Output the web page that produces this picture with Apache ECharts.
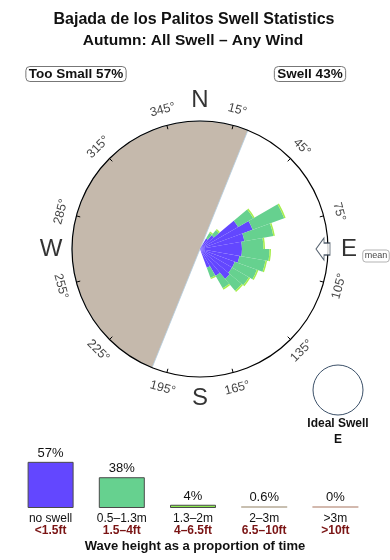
<!DOCTYPE html>
<html><head><meta charset="utf-8">
<script src="https://cdn.jsdelivr.net/npm/echarts@6/dist/echarts.min.js"></script>
<style>html,body{margin:0;padding:0;background:#fff}#c{width:390px;height:560px}</style>
</head><body><div id="c"></div>
<script>
// ---- texts ----
const titleText = 'Bajada de los Palitos Swell Statistics';
const subtitleText = 'Autumn: All Swell \u2013 Any Wind';
const tooSmallPct = 57;
const swellPct = 43;
const idealSwellDir = 'E';

// ---- rose: 10-degree direction bins (bin start bearing) ----
const dirBins = [0,10,20,30,40,50,60,70,80,90,100,110,120,130,140,150,160,170,
                 180,190,200,210,220,230,240,250,260,270,280,290,300,310,320,330,340,350];
// relative frequency (outer ring = 100), stacked by wave height class
const roseBlue   = [0,0,0,9.4,14.1,34.4,43.8,35.2,32.8,32.8,31.3,28.9,28.9,30.5,24.2,15.6,0,0,0,0,0,0,0,0,0,0,0,0,0,0,0,0,0,0,0,0];
const roseGreen  = [0,0,0,5.1,5.1,13.7,26.2,23.0,16.8,21.5,20.7,18.4,15.2,12.1,11.3,8.2,0,0,0,0,0,0,0,0,0,0,0,0,0,0,0,0,0,0,0,0];
const roseBright = [0,0,0,1.2,1.2,1.2,1.2,1.2,1.2,1.2,1.2,1.2,1.2,1.2,1.2,1.2,0,0,0,0,0,0,0,0,0,0,0,0,0,0,0,0,0,0,0,0];

// land sector (bearings, clockwise from -> to)
const landFrom = 202;
const landTo = 22;
const meanDir = 90;

// compass labels
const tickAngles = [15,45,75,105,135,165,195,225,255,285,315,345];
const cardinalNames = ['N','E','S','W'];
const cardinalAngles = [0,90,180,270];

// ---- wave height legend ----
const heightClasses = ['no swell','0.5\u20131.3m','1.3\u20132m','2\u20133m','>3m'];
const heightFeet = ['<1.5ft','1.5\u20134ft','4\u20136.5ft','6.5\u201310ft','>10ft'];
const heightPct = [57,38,4,0.6,0];
const heightColors = ['#6347FF','#66D18F','#8CEB50','#C8BFB0','#D3B9AE'];

const FONT = '"Liberation Sans", Arial, Helvetica, sans-serif';
const CX = 200, CY = 249, R = 128;

function tangentRot(a){
  let r = -a;
  while (r <= -90) r += 180;
  while (r > 90) r -= 180;
  return r;
}

const landSpan = ((landTo - landFrom) % 360 + 360) % 360;

const option = {
  animation: false,
  textStyle: { fontFamily: FONT },
  polar: [
    { center: [CX, CY], radius: R },
    { center: [CX, CY], radius: R },
    { center: [CX, CY], radius: 150 }
  ],
  angleAxis: [
    { polarIndex: 0, type: 'category', data: dirBins, startAngle: 90, clockwise: true, boundaryGap: true, show: false },
    { polarIndex: 1, type: 'value', min: 0, max: 360, interval: 30, startAngle: 90 - tickAngles[0], clockwise: true, z: 10,
      axisLine: { lineStyle: { color: '#000', width: 1.2 } },
      axisTick: { inside: true, length: 4, lineStyle: { color: '#000', width: 1 } },
      axisLabel: { show: false }, splitLine: { show: false } },
    { polarIndex: 2, type: 'value', min: 0, max: 360, startAngle: 90, clockwise: true, show: false }
  ],
  radiusAxis: [
    { polarIndex: 0, type: 'value', min: 0, max: 100, show: false },
    { polarIndex: 1, type: 'value', min: 0, max: 1, show: false },
    { polarIndex: 2, type: 'value', min: 0, max: 150, show: false }
  ],
  grid: { left: 15, width: 356, top: 427, height: 81 },
  xAxis: {
    type: 'category', data: heightClasses,
    axisLine: { show: false }, axisTick: { show: false },
    axisLabel: {
      interval: 0, margin: 5,
      formatter: (v, i) => '{a|' + v + '}\n{b|' + heightFeet[i] + '}',
      rich: {
        a: { fontSize: 12, color: '#111', lineHeight: 12, fontFamily: FONT },
        b: { fontSize: 12, color: '#7a1414', fontWeight: 'bold', lineHeight: 12, fontFamily: FONT }
      }
    }
  },
  yAxis: { type: 'value', min: 0, max: 100, show: false },
  series: [
    {
      type: 'pie', center: [CX, CY], radius: [0, R], z: 1, silent: true,
      startAngle: ((90 - landFrom) % 360 + 360) % 360, clockwise: true,
      label: { show: false }, labelLine: { show: false },
      emphasis: { disabled: true },
      data: [
        { value: landSpan, itemStyle: { color: '#C5B9AC', borderColor: '#b4cde0', borderWidth: 0.8 } },
        { value: 360 - landSpan, itemStyle: { color: 'rgba(0,0,0,0)' } }
      ]
    },
    { type: 'bar', coordinateSystem: 'polar', polarIndex: 0, stack: 'rose', data: roseBlue,
      barCategoryGap: '0%', itemStyle: { color: heightColors[0] }, z: 3, silent: true },
    { type: 'bar', coordinateSystem: 'polar', polarIndex: 0, stack: 'rose', data: roseGreen,
      barCategoryGap: '0%', itemStyle: { color: heightColors[1] }, z: 3, silent: true },
    { type: 'bar', coordinateSystem: 'polar', polarIndex: 0, stack: 'rose', data: roseBright,
      barCategoryGap: '0%', itemStyle: { color: '#A6EE4C' }, z: 3, silent: true },
    {
      type: 'scatter', coordinateSystem: 'polar', polarIndex: 2, symbolSize: 0, silent: true,
      data: tickAngles.map(a => ({ value: [144, a], label: { rotate: tangentRot(a) } })),
      label: { show: true, position: 'inside', fontSize: 12.5, color: '#111',
               formatter: p => p.value[1] + '\u00b0' }
    },
    {
      type: 'scatter', coordinateSystem: 'polar', polarIndex: 2, symbolSize: 0, silent: true,
      data: cardinalAngles.map((a, i) => ({ value: [149, a], name: cardinalNames[i] })),
      label: { show: true, position: 'inside', fontSize: 24, color: '#000', formatter: p => p.name }
    },
    {
      type: 'scatter', coordinateSystem: 'polar', polarIndex: 2, symbolSize: 0, silent: true,
      data: [{ value: [149, meanDir] }],
      label: { show: true, position: 'inside', offset: [27, 7], formatter: 'mean', fontSize: 9, color: '#111',
               borderColor: '#888', borderWidth: 0.8, borderRadius: 3, padding: [2, 2, 1, 2] }
    },
    {
      type: 'scatter', coordinateSystem: 'polar', polarIndex: 2, silent: true, z: 12,
      symbol: 'path://M0,11 L8,0 L8,5 L14,5 L14,17 L8,17 L8,22 Z',
      symbolSize: [14, 22], symbolRotate: 90 - meanDir,
      itemStyle: { color: '#fff', borderColor: '#2b3a4a', borderWidth: 1 },
      data: [[123, meanDir]]
    },
    {
      type: 'bar', xAxisIndex: 0, yAxisIndex: 0, barWidth: 46, barMinHeight: 2, silent: true,
      data: heightPct.map((v, i) => ({
        value: v,
        itemStyle: { color: heightColors[i], borderColor: i < 3 ? '#4a4a4a' : heightColors[i], borderWidth: i < 3 ? 1 : 0 }
      })),
      label: { show: true, position: 'top', distance: 2, fontSize: 13, color: '#111', formatter: '{c}%' }
    }
  ],
  graphic: [
    { type: 'text', x: 194, y: 20, style: { text: titleText, font: 'bold 16px ' + FONT, fill: '#111', textAlign: 'center', textVerticalAlign: 'middle' } },
    { type: 'text', x: 193, y: 41, style: { text: subtitleText, font: 'bold 15.5px ' + FONT, fill: '#111', textAlign: 'center', textVerticalAlign: 'middle' } },
    { type: 'text', x: 76, y: 74, style: { text: 'Too Small ' + tooSmallPct + '%', font: 'bold 13.5px ' + FONT, fill: '#111',
      textAlign: 'center', textVerticalAlign: 'middle', borderColor: '#777', borderWidth: 1, borderRadius: 4, padding: [1, 3, 0, 3] } },
    { type: 'text', x: 310, y: 74, style: { text: 'Swell ' + swellPct + '%', font: 'bold 13.5px ' + FONT, fill: '#111',
      textAlign: 'center', textVerticalAlign: 'middle', borderColor: '#777', borderWidth: 1, borderRadius: 4, padding: [1, 3, 0, 3] } },
    { type: 'circle', shape: { cx: 338, cy: 390, r: 25 }, style: { fill: '#fff', stroke: '#3b5068', lineWidth: 1 } },
    { type: 'text', x: 338, y: 424, style: { text: 'Ideal Swell', font: 'bold 12px ' + FONT, fill: '#111', textAlign: 'center', textVerticalAlign: 'middle' } },
    { type: 'text', x: 338, y: 440, style: { text: idealSwellDir, font: 'bold 12px ' + FONT, fill: '#111', textAlign: 'center', textVerticalAlign: 'middle' } },
    { type: 'text', x: 195, y: 546, style: { text: 'Wave height as a proportion of time', font: 'bold 13px ' + FONT, fill: '#111', textAlign: 'center', textVerticalAlign: 'middle' } }
  ]
};

const chart = echarts.init(document.getElementById('c'), null, { renderer: 'canvas' });
chart.setOption(option);
</script>
</body></html>
